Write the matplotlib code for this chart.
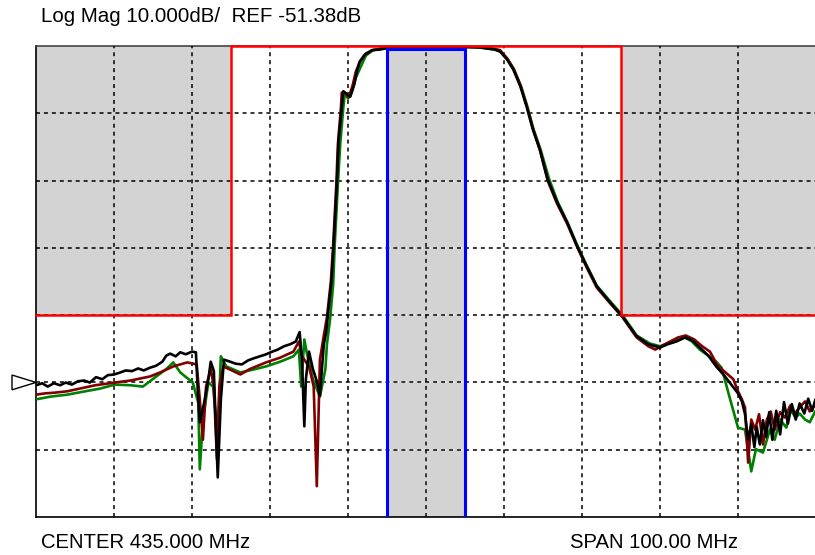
import matplotlib
matplotlib.use('Agg')
import matplotlib.pyplot as plt
import matplotlib.transforms as mtransforms
from matplotlib.patches import Polygon

# sweep settings (MHz / dB)
center_mhz = 435.0
span_mhz = 100.0
ref_db = -51.38
scale_db = 10.0

# upper limit mask (stop bands) and lower limit box (pass band)
stop_left_end = 410.0
stop_right_start = 460.0
stop_level_db = -41.38
pass_start = 430.0
pass_end = 440.0
pass_top_db = -1.9

# black trace
black_f = [385.0, 385.8, 386.5, 387.3, 388.1, 388.8, 389.6, 390.4, 391.2, 391.9,
           392.7, 393.5, 394.2, 395.0, 395.8, 396.5, 397.3, 398.1, 398.8, 399.6,
           400.4, 401.2, 401.7, 402.2, 402.9, 403.5, 404.2, 405.0, 405.5, 405.8,
           406.0, 406.5, 407.1, 407.4, 407.8, 408.3, 408.7, 409.1, 409.9, 410.6,
           411.4, 412.2, 412.9, 413.7, 414.5, 415.3, 416.0, 416.8, 417.6, 418.3,
           418.8, 419.1, 419.4, 419.6, 420.0, 420.5, 421.0, 421.4, 421.7, 421.9,
           422.2, 422.4, 422.9, 423.2, 423.6, 423.8, 424.2, 424.4, 424.7, 425.3,
           425.8, 426.2, 426.5, 427.2, 428.1, 429.1, 430.4, 434.2, 439.4, 441.9,
           443.8, 444.5, 445.4, 446.2, 447.1, 447.9, 448.7, 449.6, 450.6, 451.8,
           453.1, 454.4, 455.6, 456.9, 458.6, 460.2, 462.0, 463.5, 465.0, 466.0,
           467.1, 468.2, 469.1, 470.1, 471.2, 472.2, 473.2, 474.2, 475.0, 475.5,
           475.9, 476.3, 476.7, 477.1, 477.4, 477.8, 478.2, 478.6, 479.0, 479.4,
           479.9, 480.4, 480.9, 481.4, 481.9, 482.4, 482.9, 483.5, 484.0, 484.5,
           484.9]
black_db = [-51.8, -51.5, -52.0, -51.5, -51.8, -51.4, -51.7, -51.2, -51.1, -51.4,
            -50.6, -50.9, -50.3, -50.2, -49.9, -49.6, -49.7, -49.3, -49.6, -49.2,
            -48.9, -48.3, -47.4, -47.1, -47.5, -46.9, -47.2, -46.8, -46.9, -53.9,
            -57.3, -54.7, -50.9, -48.3, -49.7, -65.5, -53.9, -48.0, -48.3, -48.6,
            -48.7, -48.1, -47.8, -47.5, -47.2, -46.8, -46.5, -46.0, -45.7, -45.3,
            -43.9, -48.0, -57.9, -50.9, -46.8, -49.4, -51.2, -53.3, -48.7, -45.7,
            -43.9, -41.6, -36.1, -30.1, -21.2, -15.3, -10.4, -8.1, -8.4, -8.9,
            -7.1, -4.9, -3.7, -2.6, -2.0, -1.9, -1.6, -1.5, -1.5, -1.6,
            -1.9, -2.2, -3.4, -4.9, -7.4, -10.4, -13.8, -16.8, -21.2, -24.6,
            -27.6, -31.2, -34.1, -37.1, -39.5, -41.6, -44.5, -45.7, -46.2, -45.7,
            -45.3, -44.7, -45.1, -46.2, -47.4, -49.0, -50.3, -51.8, -53.0, -54.2,
            -56.1, -59.9, -57.6, -61.0, -58.0, -60.6, -57.0, -59.5, -55.8, -59.9,
            -55.6, -59.1, -54.3, -57.5, -54.6, -56.9, -54.5, -56.0, -53.8, -55.6,
            -54.0]

# dark red trace
red_f = [385.0, 386.2, 387.4, 389.0, 390.6, 392.6, 395.1, 397.1, 399.6, 400.9,
         402.6, 404.4, 405.6, 406.0, 406.4, 406.8, 407.4, 407.8, 408.2, 408.5,
         409.0, 410.3, 411.2, 412.4, 414.5, 416.3, 418.0, 418.7, 419.1, 420.0,
         420.6, 421.0, 421.4, 421.9, 422.3, 422.8, 423.1, 423.5, 423.7, 424.1,
         424.2, 424.6, 425.1, 425.6, 426.0, 426.5, 427.2, 428.1, 429.1, 430.4,
         434.2, 439.4, 441.9, 443.8, 444.5, 445.4, 446.2, 447.1, 447.9, 448.7,
         449.6, 450.6, 451.8, 453.1, 454.4, 455.6, 456.9, 458.6, 460.2, 462.0,
         463.5, 464.4, 465.3, 466.3, 467.3, 468.3, 469.4, 470.4, 471.4, 472.4,
         473.5, 474.4, 475.0, 475.5, 475.9, 476.3, 476.7, 477.2, 477.7, 478.2,
         478.7, 479.2, 479.7, 480.4, 481.0, 481.7, 482.3, 482.9, 483.6, 484.2,
         484.9]
red_db = [-53.2, -53.0, -52.9, -52.7, -52.3, -51.8, -51.4, -51.1, -50.5, -49.9,
          -49.0, -48.4, -48.7, -53.9, -59.9, -52.0, -49.4, -52.0, -62.8, -52.0,
          -49.0, -49.7, -50.2, -49.4, -48.4, -47.7, -46.8, -45.3, -47.5, -49.0,
          -52.0, -66.8, -48.0, -44.4, -41.7, -36.4, -30.9, -22.0, -16.0, -10.5,
          -8.3, -8.3, -9.0, -7.2, -5.2, -3.8, -2.6, -2.0, -1.8, -1.5,
          -1.3, -1.3, -1.5, -1.8, -2.0, -3.2, -4.7, -7.2, -10.2, -13.6,
          -16.8, -21.4, -24.8, -27.8, -31.3, -34.3, -37.3, -39.6, -41.7, -44.7,
          -46.0, -46.5, -45.9, -45.3, -44.7, -44.4, -45.0, -46.0, -46.8, -48.9,
          -50.0, -50.9, -52.7, -53.9, -55.1, -63.3, -56.9, -58.4, -56.1, -60.6,
          -56.9, -55.7, -58.4, -55.8, -56.6, -54.8, -56.0, -55.1, -54.2, -55.7,
          -54.7]

# green trace
green_f = [385.0, 386.8, 389.0, 391.3, 393.2, 395.1, 397.1, 398.7, 400.3, 401.7,
           402.6, 403.5, 405.1, 405.8, 406.0, 406.4, 407.1, 407.7, 408.3, 408.7,
           409.4, 411.2, 413.1, 414.5, 416.3, 418.0, 418.7, 419.0, 419.4, 419.7,
           420.5, 421.4, 422.1, 422.3, 422.7, 423.1, 423.3, 423.7, 424.0, 424.4,
           424.6, 425.0, 425.5, 426.0, 426.7, 427.3, 428.2, 429.1, 430.4, 434.2,
           439.4, 441.9, 443.8, 444.5, 445.5, 446.3, 447.2, 448.0, 448.8, 449.7,
           450.8, 451.9, 453.1, 454.4, 455.6, 456.9, 458.6, 460.2, 462.0, 463.7,
           465.0, 466.0, 467.1, 468.2, 469.1, 470.1, 471.2, 472.2, 472.9, 473.9,
           475.0, 475.9, 476.7, 477.3, 478.2, 479.1, 479.7, 480.4, 481.2, 481.7,
           482.4, 482.9, 483.6, 484.2, 484.9]
green_db = [-53.9, -53.5, -53.2, -52.7, -52.3, -51.7, -51.8, -52.0, -50.6, -49.4,
            -48.4, -49.9, -51.4, -54.4, -64.3, -56.9, -51.4, -52.0, -59.4, -47.5,
            -49.0, -49.9, -49.4, -49.0, -48.3, -47.5, -46.5, -52.0, -45.0, -46.9,
            -50.9, -53.5, -49.4, -45.7, -42.0, -36.8, -30.9, -22.0, -16.0, -10.5,
            -8.4, -9.2, -8.1, -6.1, -4.3, -2.8, -2.0, -1.8, -1.6, -1.5,
            -1.5, -1.6, -1.9, -2.2, -3.4, -4.9, -7.4, -10.4, -13.8, -16.8,
            -21.2, -24.6, -27.5, -31.0, -34.0, -37.0, -39.3, -41.4, -44.4, -45.6,
            -46.0, -45.6, -45.1, -44.7, -45.3, -46.5, -47.4, -48.3, -49.2, -53.5,
            -58.1, -58.4, -64.6, -61.3, -61.8, -58.4, -59.9, -56.9, -58.1, -55.4,
            -56.6, -56.0, -56.9, -57.3, -55.7]

grid_dash = (0, (2.6, 2.6))


def setup_axes(fig):
    # screen is 10 x 7 divisions, the right edge runs off the picture
    ax = fig.add_axes([36 / 815, 38 / 555, 780 / 815, 471 / 555])
    f_start = center_mhz - span_mhz / 2
    f_stop = center_mhz + span_mhz / 2
    top_db = ref_db + 5 * scale_db
    bottom_db = ref_db - 2 * scale_db
    ax.set_xlim(f_start, f_stop)
    ax.set_ylim(bottom_db, top_db)

    ax.set_xticks([f_start + i * span_mhz / 10 for i in range(1, 10)])
    ax.set_yticks([bottom_db + i * scale_db for i in range(1, 7)])
    ax.tick_params(length=0, labelbottom=False, labelleft=False)
    ax.grid(True, color='black', linestyle=grid_dash, linewidth=1.1)
    ax.set_axisbelow(False)

    for side in ['left', 'bottom']:
        ax.spines[side].set_color('black')
        ax.spines[side].set_linewidth(1.2)
    ax.spines['top'].set_color('#444444')
    ax.spines['top'].set_linewidth(1.2)
    ax.spines['right'].set_visible(False)
    return ax, f_start, f_stop, top_db, bottom_db


def draw_masks(ax, f_start, f_stop, top_db, bottom_db):
    grey = '#d3d3d3'
    # stop band areas above the limit
    ax.fill_between([f_start, stop_left_end], stop_level_db, top_db, color=grey, zorder=0.5, lw=0)
    ax.fill_between([stop_right_start, f_stop], stop_level_db, top_db, color=grey, zorder=0.5, lw=0)
    # pass band box
    ax.fill_between([pass_start, pass_end], bottom_db, pass_top_db, color=grey, zorder=2.1, lw=0)
    # grid shows white inside the pass band box
    ax.plot([center_mhz, center_mhz], [bottom_db, pass_top_db], color='white',
            linestyle=grid_dash, lw=1.1, zorder=2.2)
    for i in range(1, 7):
        lvl = bottom_db + i * scale_db
        ax.plot([pass_start, pass_end], [lvl, lvl], color='white',
                linestyle=grid_dash, lw=1.1, zorder=2.2)


def draw_traces(ax):
    ax.plot(green_f, green_db, color='#008000', lw=1.9, zorder=3)
    ax.plot(red_f, red_db, color='#800000', lw=1.9, zorder=3.1)
    ax.plot(black_f, black_db, color='black', lw=1.9, zorder=3.2)


def draw_limits(ax, f_start, f_stop, top_db, bottom_db):
    # upper limit line
    ax.plot([f_start, stop_left_end, stop_left_end, stop_right_start, stop_right_start, f_stop],
            [stop_level_db, stop_level_db, top_db, top_db, stop_level_db, stop_level_db],
            color='#ff0000', lw=1.8, zorder=4, clip_on=False, solid_joinstyle='miter')
    # lower limit box
    ax.plot([pass_start, pass_start, pass_end, pass_end],
            [bottom_db, pass_top_db, pass_top_db, bottom_db],
            color='#0000ff', lw=2.2, zorder=4.1, solid_joinstyle='miter')


def draw_ref_marker(ax):
    trans = mtransforms.blended_transform_factory(ax.transAxes, ax.transData)
    w = 24 / 780
    h = 1.1
    tri = Polygon([[-w, ref_db + h], [-w, ref_db - h], [0, ref_db]], closed=True,
                  facecolor='white', edgecolor='black', lw=1.0, transform=trans,
                  clip_on=False, zorder=5)
    ax.add_patch(tri)


if __name__ == '__main__':
    plt.rcParams['font.family'] = ['Liberation Sans', 'DejaVu Sans']
    fig = plt.figure(figsize=(8.15, 5.55), dpi=100)
    fig.patch.set_facecolor('white')

    ax, f_start, f_stop, top_db, bottom_db = setup_axes(fig)
    draw_masks(ax, f_start, f_stop, top_db, bottom_db)
    draw_traces(ax)
    draw_limits(ax, f_start, f_stop, top_db, bottom_db)
    draw_ref_marker(ax)

    fig.text(41 / 815, 1 - 17 / 555, 'Log Mag %.3fdB/  REF %.2fdB' % (scale_db, ref_db),
             fontsize=14.8, va='center', ha='left')
    fig.text(41 / 815, 1 - 543 / 555, 'CENTER %.3f MHz' % center_mhz,
             fontsize=14.6, va='center', ha='left')
    fig.text(570 / 815, 1 - 543 / 555, 'SPAN %.2f MHz' % span_mhz,
             fontsize=14.6, va='center', ha='left')

    fig.savefig('out.png', dpi=100)
